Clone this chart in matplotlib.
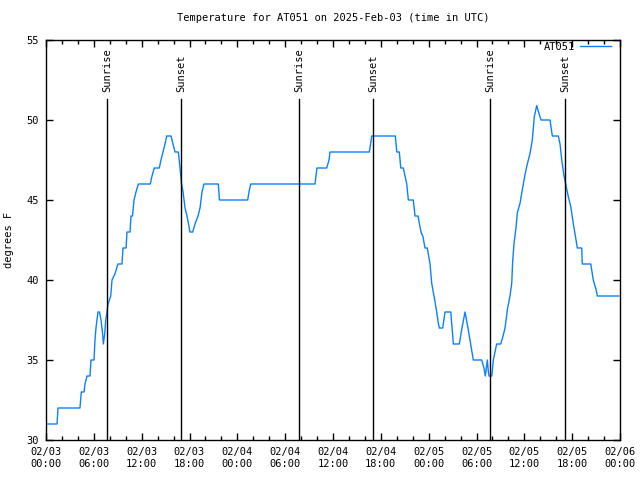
import matplotlib
matplotlib.use('Agg')
import matplotlib.pyplot as plt
import matplotlib.dates as mdates
import numpy as np
from datetime import datetime, timedelta

# Hours since 2025-02-03 00:00 UTC
hours = [0.00, 1.38, 1.51, 4.26, 4.43, 4.77, 4.89, 5.14, 5.52, 5.64, 6.02, 6.15, 6.27,
         6.52, 6.71, 6.90, 7.11, 7.19, 7.36, 7.49, 7.65, 7.78, 8.12, 8.28, 8.66, 9.03,
         9.53, 9.66, 10.04, 10.16, 10.54, 10.66, 10.85, 11.04, 11.29, 11.58, 13.08, 13.30,
         13.58, 14.21, 14.42, 14.68, 14.93, 15.14, 15.68, 15.93, 16.18, 16.60, 16.81, 17.00,
         17.19, 17.44, 17.69, 18.06, 18.40, 18.69, 19.07, 19.32, 19.57, 19.82, 20.07, 21.61,
         21.76, 25.30, 25.46, 25.68, 33.74, 33.99, 35.21, 35.50, 35.63, 40.56, 40.86, 43.82,
         44.00, 44.32, 44.50, 44.82, 45.03, 45.25, 45.45, 46.07, 46.29, 46.66, 47.04, 47.29,
         47.54, 47.83, 48.17, 48.38, 48.67, 49.01, 49.21, 49.34, 49.76, 50.05, 50.77, 51.10,
         51.84, 52.18, 52.56, 52.93, 53.40, 53.60, 54.65, 54.94, 55.11, 55.36, 55.48, 55.57,
         55.91, 56.11, 56.53, 57.04, 57.33, 57.58, 57.89, 58.20, 58.42, 58.54, 58.71, 58.96,
         59.12, 59.46, 59.80, 60.09, 60.30, 60.71, 61.00, 61.25, 61.55, 61.84, 62.09, 63.22,
         63.51, 64.26, 64.48, 64.69, 64.98, 65.19, 65.52, 65.82, 66.15, 66.48, 66.65, 67.20,
         67.27, 68.33, 68.65, 69.00, 69.16, 71.88]
temps = [31, 31, 32, 32, 33, 33, 33.5, 34, 34, 35, 35, 36.3, 37,
         38, 38, 37.5, 36.6, 36, 36.6, 37.5, 38, 38.5, 39, 40, 40.4, 41,
         41, 42, 42, 43, 43, 44, 44, 45, 45.5, 46, 46, 46.5,
         47, 47, 47.5, 48, 48.5, 49, 49, 48.5, 48, 48, 47, 46,
         45.5, 44.5, 44, 43, 43, 43.5, 44, 44.5, 45.5, 46, 46, 46,
         45, 45, 45.5, 46, 46, 47, 47, 47.5, 48, 48, 49, 49,
         48, 48, 47, 47, 46.5, 46, 45, 45, 44, 44, 43, 42.7,
         42, 42, 41, 39.8, 39, 38, 37.3, 37, 37, 38, 38, 36,
         36, 37, 38, 37, 35.6, 35, 35, 34.5, 34, 35, 34.3, 34,
         34, 35, 36, 36, 36.5, 37, 38.2, 39, 39.8, 41.2, 42.3, 43.3,
         44.2, 44.8, 45.8, 46.6, 47.1, 47.9, 48.75, 50.2, 50.9, 50.4, 50, 50,
         49, 49, 48.5, 47.5, 46.5, 46, 45.2, 44.6, 43.5, 42.5, 42, 42,
         41, 41, 40, 39.4, 39, 39]

sun_hours = [7.69, 16.97, 31.77, 41.06, 55.73, 65.14]
sun_labels = ['Sunrise', 'Sunset', 'Sunrise', 'Sunset', 'Sunrise', 'Sunset']

start = datetime(2025, 2, 3)
times = [start + timedelta(hours=h) for h in hours]
sun_times = [start + timedelta(hours=h) for h in sun_hours]

plt.rcParams['font.family'] = ['DejaVu Sans Mono']
plt.rcParams['font.size'] = 7.5

fig = plt.figure(figsize=(6.4, 4.8), dpi=100)
ax = fig.add_axes([46 / 640, 40 / 480, 574 / 640, 400 / 480])

ax.plot(times, temps, color='#0a80ff', linewidth=1.0, label='AT051')

# sunrise / sunset markers
for t, lab in zip(sun_times, sun_labels):
    ax.axvline(t, ymin=0, ymax=0.8525, color='black', linewidth=1.0)
    ax.text(t, 0.87, lab, rotation=90, ha='center', va='bottom',
            transform=ax.get_xaxis_transform())

ax.set_xlim(start, start + timedelta(hours=72))
ax.set_ylim(30, 55)
ax.set_yticks(range(30, 56, 5))
ax.xaxis.set_major_locator(mdates.HourLocator(byhour=[0, 6, 12, 18]))
ax.xaxis.set_minor_locator(mdates.HourLocator(byhour=range(0, 24, 2)))
ax.xaxis.set_major_formatter(mdates.DateFormatter('%m/%d\n%H:%M'))
ax.tick_params(which='major', direction='in', top=True, right=True, length=5, width=1, pad=5)
ax.tick_params(which='minor', direction='in', top=True, right=False, length=3, width=1)
for s in ax.spines.values():
    s.set_linewidth(1.0)

ax.set_ylabel('degrees F', labelpad=9)
ax.set_title('Temperature for AT051 on 2025-Feb-03 (time in UTC)', fontsize=7.5, pad=14)
ax.legend(loc='upper right', frameon=False, markerfirst=False, handlelength=3.0,
          borderaxespad=0.0, borderpad=0.2, handletextpad=0.5,
          bbox_to_anchor=(0.988, 1.0))

plt.savefig('out.png', dpi=100)
plt.close(fig)
